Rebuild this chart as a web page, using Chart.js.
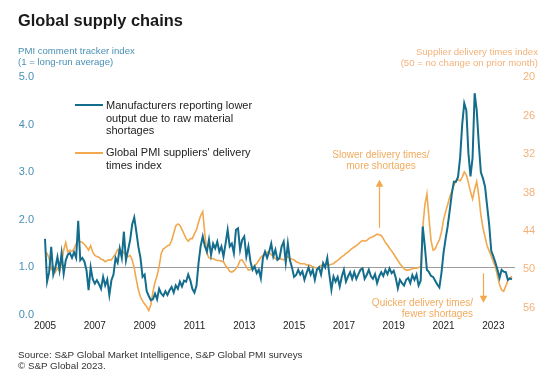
<!DOCTYPE html>
<html><head><meta charset="utf-8">
<script src="https://cdn.jsdelivr.net/npm/chart.js@4/dist/chart.umd.min.js"></script>
<style>
html,body{margin:0;padding:0;background:#fff;}
#wrap{position:relative;width:550px;height:378px;overflow:hidden;font-family:"Liberation Sans",Arial,sans-serif;}
canvas{position:absolute;left:0;top:0;}
.t{position:absolute;white-space:nowrap;}
</style></head><body>
<div id="wrap">
<canvas id="c" width="550" height="378"></canvas>
<div class="t" style="left:18px;top:10px;font-size:16.4px;font-weight:bold;line-height:20px;color:#1a1a1a">Global supply chains</div>
<div class="t" style="left:18px;top:45px;font-size:9.6px;line-height:11px;color:#4a90b5">PMI comment tracker index<br>(1 = long-run average)</div>
<div class="t" style="right:12px;top:46px;font-size:9.6px;line-height:11px;color:#f3b27a;text-align:right">Supplier delivery times index<br>(50 = no change on prior month)</div>
<div class="t" style="left:75px;top:104px;width:28px;height:2px;background:#146d8c"></div>
<div class="t" style="left:106px;top:99px;font-size:11px;line-height:12.7px;color:#222">Manufacturers reporting lower<br>output due to raw material<br>shortages</div>
<div class="t" style="left:75px;top:151.5px;width:28px;height:2px;background:#f2a84e"></div>
<div class="t" style="left:106px;top:146px;font-size:11px;line-height:12.5px;color:#222">Global PMI suppliers' delivery<br>times index</div>
<div class="t" style="left:381px;top:148.5px;transform:translateX(-50%);text-align:center;font-size:10px;line-height:11px;color:#f2ab5e">Slower delivery times/<br>more shortages</div>
<div class="t" style="right:77px;top:296.5px;text-align:right;font-size:10px;line-height:11px;color:#f2ab5e">Quicker delivery times/<br>fewer shortages</div>
<div class="t" style="left:18px;top:349px;font-size:9.8px;line-height:11px;color:#333">Source: S&amp;P Global Market Intelligence, S&amp;P Global PMI surveys<br>© S&amp;P Global 2023.</div>
</div>
<script>
const startYear = 2005;
const tickYears = ['2005','2007','2009','2011','2013','2015','2017','2019','2021','2023'];
const leftTicks = [0,1,2,3,4,5];
const rightTicks = [20,26,32,38,44,50,56];
const refLevel = 1.0;

const shortageIndex = [
1.60,0.70,0.90,1.43,0.85,1.00,1.22,0.94,1.30,0.87,
1.15,1.27,1.30,1.20,1.32,1.20,1.98,1.15,1.20,1.12,
0.94,0.52,1.00,0.75,0.66,0.73,0.65,0.55,0.80,0.62,
0.75,0.42,0.73,0.85,1.20,1.10,1.40,1.20,1.75,1.15,
1.36,1.57,1.90,2.05,1.75,1.43,1.20,0.80,0.85,0.50,
0.40,0.31,0.33,0.45,0.33,0.55,0.45,0.40,0.50,0.42,
0.52,0.59,0.47,0.62,0.55,0.70,0.60,0.72,0.70,0.85,
0.73,0.55,0.47,0.62,1.10,1.45,1.65,1.45,1.33,1.58,
1.26,1.50,1.40,1.54,1.33,1.44,1.23,1.50,1.79,1.44,
1.50,1.30,1.79,1.82,1.37,1.58,1.65,1.23,1.44,1.12,
0.95,1.02,0.88,0.95,0.77,1.20,1.33,1.20,1.33,1.50,
1.23,1.37,1.16,1.20,1.44,1.54,1.10,1.50,1.15,1.00,
0.80,0.84,0.95,0.85,0.92,0.74,0.88,1.00,0.85,0.95,
0.74,0.95,1.00,0.85,1.09,1.00,1.20,0.85,0.53,0.81,
0.70,0.80,0.60,0.81,0.95,0.70,0.81,0.90,0.76,0.90,
0.76,0.86,0.95,0.98,0.76,0.84,0.95,0.82,0.76,0.86,
0.67,0.81,0.90,0.82,0.95,0.86,0.98,0.88,0.93,0.78,
0.56,0.74,0.67,0.62,0.74,0.78,0.67,0.84,0.74,0.85,
0.62,0.72,1.86,1.44,0.95,0.90,0.82,0.80,0.72,0.64,
0.58,0.88,1.30,1.60,1.86,2.20,2.55,2.80,2.80,2.90,
3.30,4.00,4.45,4.30,3.40,2.91,3.30,4.66,4.30,3.60,
3.00,2.87,2.70,2.30,1.90,1.35,1.23,1.10,0.95,0.78,
0.95,0.91,0.90,0.74,0.77,0.75];

const deliveryTimes = [
47.3,47.5,48.3,50.0,49.6,50.4,49.8,50.2,49.0,47.0,
45.8,47.3,47.0,47.2,46.8,46.0,45.4,45.7,45.8,46.1,
46.5,47.0,46.3,47.3,47.8,48.0,48.1,48.4,48.5,48.8,
48.6,48.5,48.5,48.0,47.6,46.9,47.0,47.5,47.3,47.9,
48.0,47.8,48.5,49.8,51.6,53.2,54.3,54.9,55.4,55.8,
56.4,55.5,53.5,52.0,51.0,49.5,47.5,46.8,46.6,46.3,
46.2,45.5,44.4,43.2,42.9,43.1,43.8,44.5,45.2,45.6,
45.2,45.2,44.4,43.8,42.6,41.6,41.0,44.5,47.5,48.2,
48.3,48.3,48.5,48.6,48.6,48.7,48.8,49.4,49.8,50.3,
50.4,50.2,49.9,49.4,48.6,48.5,49.0,49.6,50.1,50.0,
49.8,49.4,49.1,48.6,48.1,47.8,47.5,47.3,47.4,47.7,
48.0,48.3,48.5,48.3,48.4,48.5,48.2,48.0,48.3,48.4,
48.5,48.8,48.9,49.1,49.1,49.1,49.3,49.3,49.4,49.6,
49.7,49.8,49.6,49.4,49.3,49.2,49.1,49.3,49.2,49.1,
48.8,48.6,48.3,48.0,47.8,47.5,47.3,47.0,46.7,46.5,
46.3,46.0,45.7,45.5,45.6,45.5,45.2,45.0,44.9,44.7,
44.5,44.6,44.7,45.2,45.8,46.2,46.7,47.1,47.6,48.1,
48.6,49.1,49.5,49.9,50.1,50.1,50.0,49.9,49.8,49.8,
49.7,49.6,43.5,40.0,38.2,42.0,45.5,47.0,46.8,46.0,
45.4,44.2,42.3,41.0,39.9,38.7,37.8,36.9,36.2,36.0,
36.2,35.6,34.8,35.3,36.5,37.9,39.0,37.5,36.3,38.5,
41.5,43.5,44.9,46.3,47.1,47.9,48.8,49.6,51.0,52.4,
53.2,53.4,52.6,51.7,51.3,51.1];

const months = [];
for (let i = 0; i < shortageIndex.length; i++) {
  const y = startYear + Math.floor(i / 12), m = (i % 12) + 1;
  months.push(y + '-' + (m < 10 ? '0' + m : m));
}

const BLUE = '#146d8c', ORANGE = '#f2a84e';
const FONT = '"Liberation Sans", Arial, sans-serif';

// annotation arrows placed in data coordinates (month index, right-axis value)
const arrowUp = {month: 161, from: 43.5, to: 36.0};
const arrowDown = {month: 211, from: 50.6, to: 55.2};

const extras = {
  id: 'extras',
  beforeDatasetsDraw(chart) {
    const {ctx, chartArea: a, scales} = chart;
    const py = Math.round(scales.y.getPixelForValue(refLevel)) + 0.5;
    ctx.save();
    ctx.strokeStyle = '#9d9d9d';
    ctx.lineWidth = 1;
    ctx.beginPath();
    ctx.moveTo(a.left, py);
    ctx.lineTo(a.right + 3, py);
    ctx.stroke();
    ctx.restore();
  },
  afterDatasetsDraw(chart) {
    const {ctx, scales} = chart;
    const draw = (ar) => {
      const x = Math.round(scales.x.getPixelForValue(ar.month)) + 0.5;
      const y0 = scales.y2.getPixelForValue(ar.from);
      const y1 = scales.y2.getPixelForValue(ar.to);
      const dir = y1 < y0 ? -1 : 1;
      ctx.save();
      ctx.strokeStyle = ORANGE; ctx.fillStyle = ORANGE; ctx.lineWidth = 1.2;
      ctx.beginPath(); ctx.moveTo(x, y0); ctx.lineTo(x, y1 - dir * 6); ctx.stroke();
      ctx.beginPath();
      ctx.moveTo(x, y1);
      ctx.lineTo(x - 3.8, y1 - dir * 7);
      ctx.lineTo(x + 3.8, y1 - dir * 7);
      ctx.closePath(); ctx.fill();
      ctx.restore();
    };
    draw(arrowUp); draw(arrowDown);
  }
};

new Chart(document.getElementById('c'), {
  type: 'line',
  data: {
    labels: months,
    datasets: [
      {label: 'Manufacturers reporting lower output due to raw material shortages', data: shortageIndex, yAxisID: 'y',
       borderColor: BLUE, borderWidth: 2, pointRadius: 0, tension: 0, order: 0},
      {label: "Global PMI suppliers' delivery times index", data: deliveryTimes, yAxisID: 'y2',
       borderColor: ORANGE, borderWidth: 1.6, pointRadius: 0, tension: 0, order: 1}
    ]
  },
  options: {
    responsive: false, animation: false, devicePixelRatio: 1, events: [],
    layout: {padding: {top: 77, left: 0, right: 0, bottom: 0}},
    plugins: {legend: {display: false}, title: {display: false}, tooltip: {enabled: false}},
    scales: {
      x: {
        type: 'category', offset: false,
        grid: {display: false, drawTicks: false}, border: {display: false},
        ticks: {
          autoSkip: false, maxRotation: 0, minRotation: 0, padding: 5,
          color: '#222', font: {family: FONT, size: 10},
          callback(v) {
            const lab = this.getLabelForValue(v);
            const [yy, mm] = lab.split('-');
            return (mm === '01' && tickYears.includes(yy)) ? yy : null;
          }
        },
        afterFit(s) { s.height = 63; }
      },
      y: {
        position: 'left', min: 0, max: 5,
        grid: {display: false, drawTicks: false}, border: {display: false},
        afterBuildTicks(s) { s.ticks = leftTicks.map(v => ({value: v})); },
        ticks: {padding: 11, color: '#4a90b5', font: {family: FONT, size: 11}, callback: v => v.toFixed(1)},
        afterFit(s) { s.width = 45; }
      },
      y2: {
        position: 'right', min: 20, max: 57.1, reverse: true,
        grid: {display: false, drawTicks: false}, border: {display: false},
        afterBuildTicks(s) { s.ticks = rightTicks.map(v => ({value: v})); },
        ticks: {padding: 11, color: '#f3b27a', font: {family: FONT, size: 11}, callback: v => String(v)},
        afterFit(s) { s.width = 38; }
      }
    }
  },
  plugins: [extras]
});
</script>
</body></html>
